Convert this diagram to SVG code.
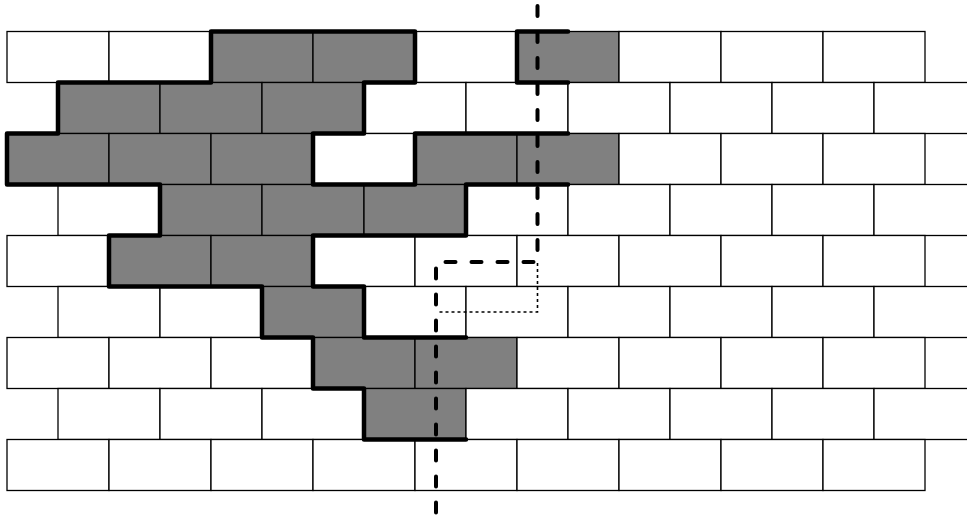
<svg xmlns="http://www.w3.org/2000/svg" width="967" height="518" viewBox="0 0 967 518">
<style>
.b{fill:#fff;stroke:#000;stroke-width:1.3}
.g{fill:#808080;stroke:#000;stroke-width:1.3}
.thick{fill:none;stroke:#000;stroke-width:4.5;stroke-linejoin:round;stroke-linecap:round}
.dash{fill:none;stroke:#000;stroke-width:4;stroke-dasharray:10 16;stroke-linecap:round}
.dot{fill:none;stroke:#000;stroke-width:1.6;stroke-dasharray:3 3}
</style>
<rect width="967" height="518" fill="#fff"/>
<g id="row0">
<rect class="b" x="7" y="31.5" width="102" height="51"/><rect class="b" x="109" y="31.5" width="102" height="51"/><rect class="g" x="211" y="31.5" width="102" height="51"/><rect class="g" x="313" y="31.5" width="102" height="51"/><rect class="b" x="415" y="31.5" width="102" height="51"/><rect class="g" x="517" y="31.5" width="102" height="51"/><rect class="b" x="619" y="31.5" width="102" height="51"/><rect class="b" x="721" y="31.5" width="102" height="51"/><rect class="b" x="823" y="31.5" width="102" height="51"/>
</g>
<g id="row1">
<rect class="g" x="58" y="82.5" width="102" height="51"/><rect class="g" x="160" y="82.5" width="102" height="51"/><rect class="g" x="262" y="82.5" width="102" height="51"/><rect class="b" x="364" y="82.5" width="102" height="51"/><rect class="b" x="466" y="82.5" width="102" height="51"/><rect class="b" x="568" y="82.5" width="102" height="51"/><rect class="b" x="670" y="82.5" width="102" height="51"/><rect class="b" x="772" y="82.5" width="102" height="51"/><rect class="b" x="874" y="82.5" width="102" height="51"/>
</g>
<g id="row2">
<rect class="g" x="7" y="133.5" width="102" height="51"/><rect class="g" x="109" y="133.5" width="102" height="51"/><rect class="g" x="211" y="133.5" width="102" height="51"/><rect class="b" x="313" y="133.5" width="102" height="51"/><rect class="g" x="415" y="133.5" width="102" height="51"/><rect class="g" x="517" y="133.5" width="102" height="51"/><rect class="b" x="619" y="133.5" width="102" height="51"/><rect class="b" x="721" y="133.5" width="102" height="51"/><rect class="b" x="823" y="133.5" width="102" height="51"/>
</g>
<g id="row3">
<rect class="b" x="58" y="184.5" width="102" height="51"/><rect class="g" x="160" y="184.5" width="102" height="51"/><rect class="g" x="262" y="184.5" width="102" height="51"/><rect class="g" x="364" y="184.5" width="102" height="51"/><rect class="b" x="466" y="184.5" width="102" height="51"/><rect class="b" x="568" y="184.5" width="102" height="51"/><rect class="b" x="670" y="184.5" width="102" height="51"/><rect class="b" x="772" y="184.5" width="102" height="51"/><rect class="b" x="874" y="184.5" width="102" height="51"/>
</g>
<g id="row4">
<rect class="b" x="7" y="235.5" width="102" height="51"/><rect class="g" x="109" y="235.5" width="102" height="51"/><rect class="g" x="211" y="235.5" width="102" height="51"/><rect class="b" x="313" y="235.5" width="102" height="51"/><rect class="b" x="415" y="235.5" width="102" height="51"/><rect class="b" x="517" y="235.5" width="102" height="51"/><rect class="b" x="619" y="235.5" width="102" height="51"/><rect class="b" x="721" y="235.5" width="102" height="51"/><rect class="b" x="823" y="235.5" width="102" height="51"/>
</g>
<g id="row5">
<rect class="b" x="58" y="286.5" width="102" height="51"/><rect class="b" x="160" y="286.5" width="102" height="51"/><rect class="g" x="262" y="286.5" width="102" height="51"/><rect class="b" x="364" y="286.5" width="102" height="51"/><rect class="b" x="466" y="286.5" width="102" height="51"/><rect class="b" x="568" y="286.5" width="102" height="51"/><rect class="b" x="670" y="286.5" width="102" height="51"/><rect class="b" x="772" y="286.5" width="102" height="51"/><rect class="b" x="874" y="286.5" width="102" height="51"/>
</g>
<g id="row6">
<rect class="b" x="7" y="337.5" width="102" height="51"/><rect class="b" x="109" y="337.5" width="102" height="51"/><rect class="b" x="211" y="337.5" width="102" height="51"/><rect class="g" x="313" y="337.5" width="102" height="51"/><rect class="g" x="415" y="337.5" width="102" height="51"/><rect class="b" x="517" y="337.5" width="102" height="51"/><rect class="b" x="619" y="337.5" width="102" height="51"/><rect class="b" x="721" y="337.5" width="102" height="51"/><rect class="b" x="823" y="337.5" width="102" height="51"/>
</g>
<g id="row7">
<rect class="b" x="58" y="388.5" width="102" height="51"/><rect class="b" x="160" y="388.5" width="102" height="51"/><rect class="b" x="262" y="388.5" width="102" height="51"/><rect class="g" x="364" y="388.5" width="102" height="51"/><rect class="b" x="466" y="388.5" width="102" height="51"/><rect class="b" x="568" y="388.5" width="102" height="51"/><rect class="b" x="670" y="388.5" width="102" height="51"/><rect class="b" x="772" y="388.5" width="102" height="51"/><rect class="b" x="874" y="388.5" width="102" height="51"/>
</g>
<g id="row8">
<rect class="b" x="7" y="439.5" width="102" height="51"/><rect class="b" x="109" y="439.5" width="102" height="51"/><rect class="b" x="211" y="439.5" width="102" height="51"/><rect class="b" x="313" y="439.5" width="102" height="51"/><rect class="b" x="415" y="439.5" width="102" height="51"/><rect class="b" x="517" y="439.5" width="102" height="51"/><rect class="b" x="619" y="439.5" width="102" height="51"/><rect class="b" x="721" y="439.5" width="102" height="51"/><rect class="b" x="823" y="439.5" width="102" height="51"/>
</g>
<g id="outline">
<path class="thick" d="M466,439.5 H364 V388.5 H313 V337.5 H262 V286.5 H109 V235.5 H160 V184.5 H7 V133.5 H58 V82.5 H211 V31.5 H415 V82.5 H364 V133.5 H313 V184.5 H415 V133.5 H568"/>
<path class="thick" d="M568,184.5 H466 V235.5 H313 V286.5 H364 V337.5 H466"/>
<path class="thick" d="M568,31.5 H517 V82.5 H568"/>
</g>
<g id="connectors">
<path class="dash" d="M537.5,6 V262 H436 V518"/>
<path class="dot" d="M537.5,263 V312 H437"/>
</g>
</svg>
